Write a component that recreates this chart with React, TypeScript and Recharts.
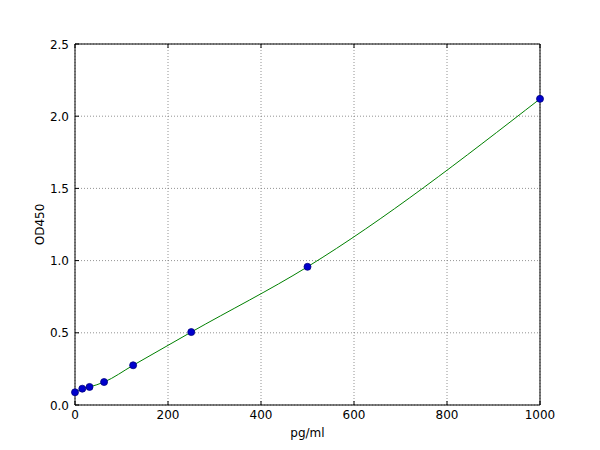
import React from 'react';
import { ComposedChart, XAxis, YAxis, CartesianGrid, Line, Scatter } from 'recharts';

const concentrations = [0, 15.625, 31.25, 62.5, 125, 250, 500, 1000];
const odValues = [0.088, 0.113, 0.125, 0.159, 0.275, 0.505, 0.957, 2.12];
const xTicks = [0, 200, 400, 600, 800, 1000];
const yTicks = [0, 0.5, 1.0, 1.5, 2.0, 2.5];

const data = concentrations.map((x, i) => ({ x, y: odValues[i] }));

const FONT = 'DejaVu Sans, sans-serif';

const BottomTick = (props: any) => {
  const { x, y, payload } = props;
  return (
    <g>
      <line x1={x} y1={y} x2={x} y2={y - 4} stroke="#000" strokeWidth={1} />
      <text x={x} y={y + 14} textAnchor="middle" fontFamily={FONT} fontSize={12} fill="#000">
        {payload.value}
      </text>
    </g>
  );
};

const TopTick = (props: any) => {
  const { x, y } = props;
  return <line x1={x} y1={y} x2={x} y2={y + 4} stroke="#000" strokeWidth={1} />;
};

const LeftTick = (props: any) => {
  const { x, y, payload } = props;
  return (
    <g>
      <line x1={x} y1={y} x2={x + 4} y2={y} stroke="#000" strokeWidth={1} />
      <text x={x - 6} y={y + 4.5} textAnchor="end" fontFamily={FONT} fontSize={12} fill="#000">
        {Number(payload.value).toFixed(1)}
      </text>
    </g>
  );
};

const RightTick = (props: any) => {
  const { x, y } = props;
  return <line x1={x} y1={y} x2={x - 4} y2={y} stroke="#000" strokeWidth={1} />;
};

const Dot = (props: any) => {
  const { cx, cy } = props;
  return <circle cx={cx} cy={cy} r={3.5} fill="#0000cc" stroke="#000080" strokeWidth={0.8} />;
};

export default function App() {
  return (
    <div style={{ position: 'absolute', left: 0, top: 0, background: '#fff' }}>
      <ComposedChart
        width={600}
        height={450}
        data={data}
        margin={{ top: 0, right: 0, bottom: 0, left: 0 }}
      >
        <CartesianGrid stroke="#777" strokeDasharray="1 2" strokeWidth={0.8} />
        <XAxis
          dataKey="x"
          type="number"
          domain={[0, 1000]}
          ticks={xTicks}
          interval={0}
          height={45}
          tickSize={0}
          tickMargin={0}
          tickLine={false}
          axisLine={{ stroke: '#000', strokeWidth: 1 }}
          tick={<BottomTick />}
          label={{
            content: (p: any) => {
              const vb = p.viewBox;
              return (
                <text x={vb.x + vb.width / 2} y={vb.y + 32} textAnchor="middle" fontFamily={FONT} fontSize={12} fill="#000">
                  pg/ml
                </text>
              );
            },
          }}
        />
        <XAxis
          xAxisId="top"
          orientation="top"
          dataKey="x"
          type="number"
          domain={[0, 1000]}
          ticks={xTicks}
          interval={0}
          height={44}
          tickSize={0}
          tickMargin={0}
          tickLine={false}
          axisLine={{ stroke: '#000', strokeWidth: 1 }}
          tick={<TopTick />}
        />
        <YAxis
          type="number"
          domain={[0, 2.5]}
          ticks={yTicks}
          interval={0}
          width={75}
          tickSize={0}
          tickMargin={0}
          tickLine={false}
          axisLine={{ stroke: '#000', strokeWidth: 1 }}
          tick={<LeftTick />}
          label={{
            content: (p: any) => {
              const vb = p.viewBox;
              const cx = 40;
              const cy = vb.y + vb.height / 2;
              return (
                <text x={cx} y={cy} textAnchor="middle" dominantBaseline="central" transform={`rotate(-90 ${cx} ${cy})`} fontFamily={FONT} fontSize={12} fill="#000">
                  OD450
                </text>
              );
            },
          }}
        />
        <YAxis
          yAxisId="right"
          orientation="right"
          type="number"
          domain={[0, 2.5]}
          ticks={yTicks}
          interval={0}
          width={60}
          tickSize={0}
          tickMargin={0}
          tickLine={false}
          axisLine={{ stroke: '#000', strokeWidth: 1 }}
          tick={<RightTick />}
        />
        <Line
          dataKey="y"
          type="monotone"
          stroke="#008000"
          strokeWidth={1}
          dot={false}
          activeDot={false}
          isAnimationActive={false}
        />
        <Scatter dataKey="y" data={data} shape={<Dot />} isAnimationActive={false} />
      </ComposedChart>
    </div>
  );
}
